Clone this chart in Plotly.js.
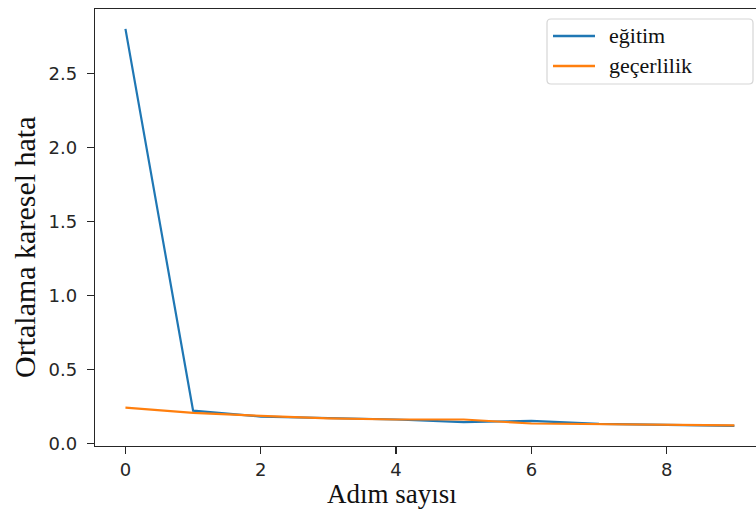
<!DOCTYPE html>
<html>
<head>
<meta charset="utf-8">
<script src="https://cdn.plot.ly/plotly-3.0.1.min.js"></script>
<style>html,body{margin:0;padding:0;background:#fff;}#chart{width:756px;height:514px;}</style>
</head>
<body>
<div id="chart"></div>
<script>
const steps = [0, 1, 2, 3, 4, 5, 6, 7, 8, 9];
const egitim = [2.80, 0.22, 0.18, 0.17, 0.16, 0.142, 0.151, 0.13, 0.125, 0.117];
const gecerlilik = [0.24, 0.205, 0.185, 0.168, 0.16, 0.16, 0.133, 0.127, 0.124, 0.12];
const seriesNames = ["eğitim", "geçerlilik"];
const seriesColors = ["#1f77b4", "#ff7f0e"];
const xTicks = [0, 2, 4, 6, 8];
const yTicks = [0, 0.5, 1.0, 1.5, 2.0, 2.5];
const yTickLabels = ["0.0", "0.5", "1.0", "1.5", "2.0", "2.5"];

const axisColor = "#262626";
const serif = "Liberation Serif, Times New Roman, serif";

// plot area geometry in pixels (for placing legend/titles)
const L = 95, T = 9, W = 661, H = 437;
const px = v => (v - L) / W;
const py = v => 1 - (v - T) / H;

const traces = [
  {x: steps, y: egitim, name: seriesNames[0], type: "scatter", mode: "lines",
   line: {color: seriesColors[0], width: 2.2}},
  {x: steps, y: gecerlilik, name: seriesNames[1], type: "scatter", mode: "lines",
   line: {color: seriesColors[1], width: 2.2}}
];

// rounded legend frame (pixel box 547..753 x 19..84, radius 4)
function roundedBox(x0, y0, x1, y1, r) {
  const P = (x, y) => px(x).toFixed(5) + "," + py(y).toFixed(5);
  return "M" + P(x0 + r, y0) + " L" + P(x1 - r, y0) + " Q" + P(x1, y0) + " " + P(x1, y0 + r) +
    " L" + P(x1, y1 - r) + " Q" + P(x1, y1) + " " + P(x1 - r, y1) +
    " L" + P(x0 + r, y1) + " Q" + P(x0, y1) + " " + P(x0, y1 - r) +
    " L" + P(x0, y0 + r) + " Q" + P(x0, y0) + " " + P(x0 + r, y0) + " Z";
}

const legendRowsY = [36, 66];
const shapes = [
  {type: "path", xref: "paper", yref: "paper", layer: "above",
   path: roundedBox(547, 19, 753, 84, 4),
   line: {color: "#d6d6d6", width: 1.2}, fillcolor: "rgba(255,255,255,0.9)"}
];
const annotations = [
  {text: "Adım sayısı", xref: "paper", yref: "paper",
   x: px(392), y: py(494), xanchor: "center", yanchor: "middle",
   showarrow: false, font: {family: serif, size: 27, color: "#111"}},
  {text: "Ortalama karesel hata", xref: "paper", yref: "paper", textangle: -90,
   x: px(24), y: py(247), xanchor: "center", yanchor: "middle",
   showarrow: false, font: {family: serif, size: 30, color: "#111"}}
];
seriesNames.forEach((name, i) => {
  shapes.push({type: "line", xref: "paper", yref: "paper", layer: "above",
    x0: px(553), x1: px(595), y0: py(legendRowsY[i]), y1: py(legendRowsY[i]),
    line: {color: seriesColors[i], width: 2.6}});
  annotations.push({text: name, xref: "paper", yref: "paper",
    x: px(607), y: py(legendRowsY[i] - 1), xanchor: "left", yanchor: "middle",
    showarrow: false, font: {family: serif, size: 22, color: "#111"}});
});

const layout = {
  width: 756, height: 514,
  margin: {l: L, r: 0, t: T, b: 514 - T - H, pad: 0},
  paper_bgcolor: "#fff", plot_bgcolor: "#fff",
  showlegend: false,
  xaxis: {
    range: [-0.45, 9.32], tickvals: xTicks, ticktext: xTicks.map(String),
    showgrid: false, zeroline: false,
    showline: true, mirror: true, linecolor: axisColor, linewidth: 1.3,
    ticks: "outside", ticklen: 7, tickwidth: 1.3, tickcolor: axisColor,
    tickfont: {family: "DejaVu Sans", size: 18, color: axisColor}
  },
  yaxis: {
    range: [-0.019, 2.934], tickvals: yTicks, ticktext: yTickLabels,
    showgrid: false, zeroline: false,
    showline: true, mirror: false, linecolor: axisColor, linewidth: 1.3,
    ticks: "outside", ticklen: 7, tickwidth: 1.3, tickcolor: axisColor,
    ticklabelstandoff: 6,
    tickfont: {family: "DejaVu Sans", size: 18, color: axisColor}
  },
  shapes: shapes,
  annotations: annotations
};

Plotly.newPlot("chart", traces, layout, {displayModeBar: false, staticPlot: true});
</script>
</body>
</html>
